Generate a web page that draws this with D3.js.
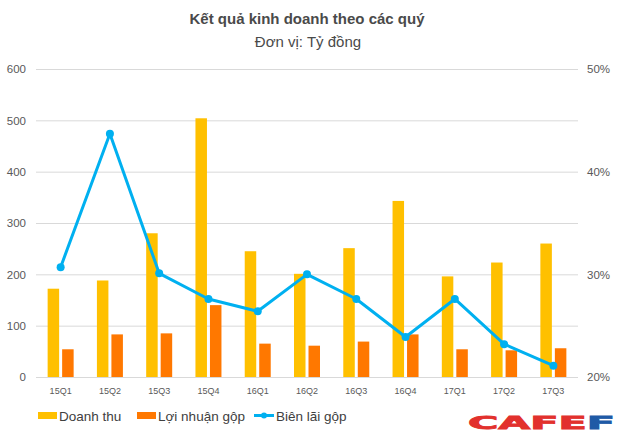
<!DOCTYPE html>
<html>
<head>
<meta charset="utf-8">
<script src="https://cdn.jsdelivr.net/npm/d3@7"></script>
<style>
  body { margin: 0; background: #fff; }
  svg { display: block; font-family: "Liberation Sans", Arial, sans-serif; }
  .grid line { stroke: #d9d9d9; stroke-width: 1; }
  .axis text { fill: #595959; }
</style>
</head>
<body>
<div id="chart"></div>
<script>
const quarters = ['15Q1', '15Q2', '15Q3', '15Q4', '16Q1', '16Q2', '16Q3', '16Q4', '17Q1', '17Q2', '17Q3'];
const revenue = [172, 188, 280, 504, 245, 201, 251, 343, 196, 223, 260];
const grossProfit = [54, 83, 85, 140, 65, 61, 69, 83, 54, 52, 56];
const grossMargin = [30.7, 43.7, 30.1, 27.6, 26.4, 30.0, 27.6, 23.9, 27.6, 23.2, 21.1];
const leftTicks = [0, 100, 200, 300, 400, 500, 600];
const rightTicks = [20, 30, 40, 50];

const width = 617, height = 433;
const margin = {top: 69, right: 39, bottom: 56, left: 36};
const innerW = width - margin.left - margin.right;
const innerH = height - margin.top - margin.bottom;

const colors = {revenue: '#ffc000', profit: '#ff7800', margin: '#00b0f0'};

const svg = d3.select('#chart').append('svg')
  .attr('width', width)
  .attr('height', height);

// titles
svg.append('text')
  .attr('x', 307).attr('y', 24)
  .attr('text-anchor', 'middle')
  .attr('font-size', 15).attr('font-weight', 'bold')
  .attr('fill', '#4a4a4a')
  .text('Kết quả kinh doanh theo các quý');

svg.append('text')
  .attr('x', 308).attr('y', 47)
  .attr('text-anchor', 'middle')
  .attr('font-size', 15)
  .attr('fill', '#4a4a4a')
  .text('Đơn vị: Tỷ đồng');

const g = svg.append('g')
  .attr('transform', 'translate(' + margin.left + ',' + margin.top + ')');

const x = d3.scaleBand().domain(quarters).range([0, innerW]);
const yLeft = d3.scaleLinear().domain([0, 600]).range([innerH, 0]);
const yRight = d3.scaleLinear().domain([20, 50]).range([innerH, 0]);

// gridlines
g.append('g').attr('class', 'grid')
  .selectAll('line')
  .data(leftTicks)
  .enter().append('line')
  .attr('x1', 0).attr('x2', innerW)
  .attr('y1', d => yLeft(d) + 0.5).attr('y2', d => yLeft(d) + 0.5);

// left axis
g.append('g').attr('class', 'axis')
  .call(d3.axisLeft(yLeft).tickValues(leftTicks).tickSize(0).tickPadding(10))
  .call(a => a.select('.domain').remove())
  .selectAll('text').attr('font-size', 11.5);

// right axis
g.append('g').attr('class', 'axis')
  .attr('transform', 'translate(' + innerW + ',0)')
  .call(d3.axisRight(yRight).tickValues(rightTicks).tickSize(0).tickPadding(9)
    .tickFormat(d => d + '%'))
  .call(a => a.select('.domain').remove())
  .selectAll('text').attr('font-size', 11.5);

// x axis labels
g.append('g').attr('class', 'axis')
  .attr('transform', 'translate(0,' + innerH + ')')
  .call(d3.axisBottom(x).tickSize(0).tickPadding(11))
  .call(a => a.select('.domain').remove())
  .selectAll('text').attr('font-size', 9);

const barW = 11.5, gap = 3;

g.selectAll('.bar-rev')
  .data(revenue)
  .enter().append('rect')
  .attr('class', 'bar-rev')
  .attr('x', (d, i) => x(quarters[i]) + x.bandwidth() / 2 - gap / 2 - barW)
  .attr('y', d => yLeft(d))
  .attr('width', barW)
  .attr('height', d => innerH - yLeft(d))
  .attr('fill', colors.revenue);

g.selectAll('.bar-profit')
  .data(grossProfit)
  .enter().append('rect')
  .attr('class', 'bar-profit')
  .attr('x', (d, i) => x(quarters[i]) + x.bandwidth() / 2 + gap / 2)
  .attr('y', d => yLeft(d))
  .attr('width', barW)
  .attr('height', d => innerH - yLeft(d))
  .attr('fill', colors.profit);

const line = d3.line()
  .x((d, i) => x(quarters[i]) + x.bandwidth() / 2)
  .y(d => yRight(d));

g.append('path')
  .datum(grossMargin)
  .attr('d', line)
  .attr('fill', 'none')
  .attr('stroke', colors.margin)
  .attr('stroke-width', 3)
  .attr('stroke-linejoin', 'round');

g.selectAll('.dot')
  .data(grossMargin)
  .enter().append('circle')
  .attr('class', 'dot')
  .attr('cx', (d, i) => x(quarters[i]) + x.bandwidth() / 2)
  .attr('cy', d => yRight(d))
  .attr('r', 4)
  .attr('fill', colors.margin);

// legend
const legend = svg.append('g').attr('font-size', 13.5).attr('fill', '#404040');

legend.append('rect').attr('x', 38).attr('y', 412).attr('width', 19).attr('height', 7).attr('fill', colors.revenue);
legend.append('text').attr('x', 59).attr('y', 421).attr('fill', '#404040').text('Doanh thu');

legend.append('rect').attr('x', 137).attr('y', 412).attr('width', 19).attr('height', 7).attr('fill', colors.profit);
legend.append('text').attr('x', 158).attr('y', 421).attr('fill', '#404040').text('Lợi nhuận gộp');

legend.append('line').attr('x1', 254).attr('x2', 274).attr('y1', 415.5).attr('y2', 415.5)
  .attr('stroke', colors.margin).attr('stroke-width', 3);
legend.append('circle').attr('cx', 264).attr('cy', 415.5).attr('r', 3).attr('fill', colors.margin);
legend.append('text').attr('x', 276).attr('y', 421).attr('fill', '#404040').text('Biên lãi gộp');

// CAFEF logo
const logo = svg.append('text')
  .attr('x', 468).attr('y', 429)
  .attr('font-size', 17).attr('font-weight', 'bold')
  .attr('font-family', '"DejaVu Sans", sans-serif')
  .attr('stroke-width', 0.8)
  .attr('textLength', 147).attr('lengthAdjust', 'spacingAndGlyphs');
logo.append('tspan').attr('fill', '#e2312d').attr('stroke', '#e2312d').text('CAFE');
logo.append('tspan').attr('fill', '#1f5aa6').attr('stroke', '#1f5aa6').text('F');
</script>
</body>
</html>
